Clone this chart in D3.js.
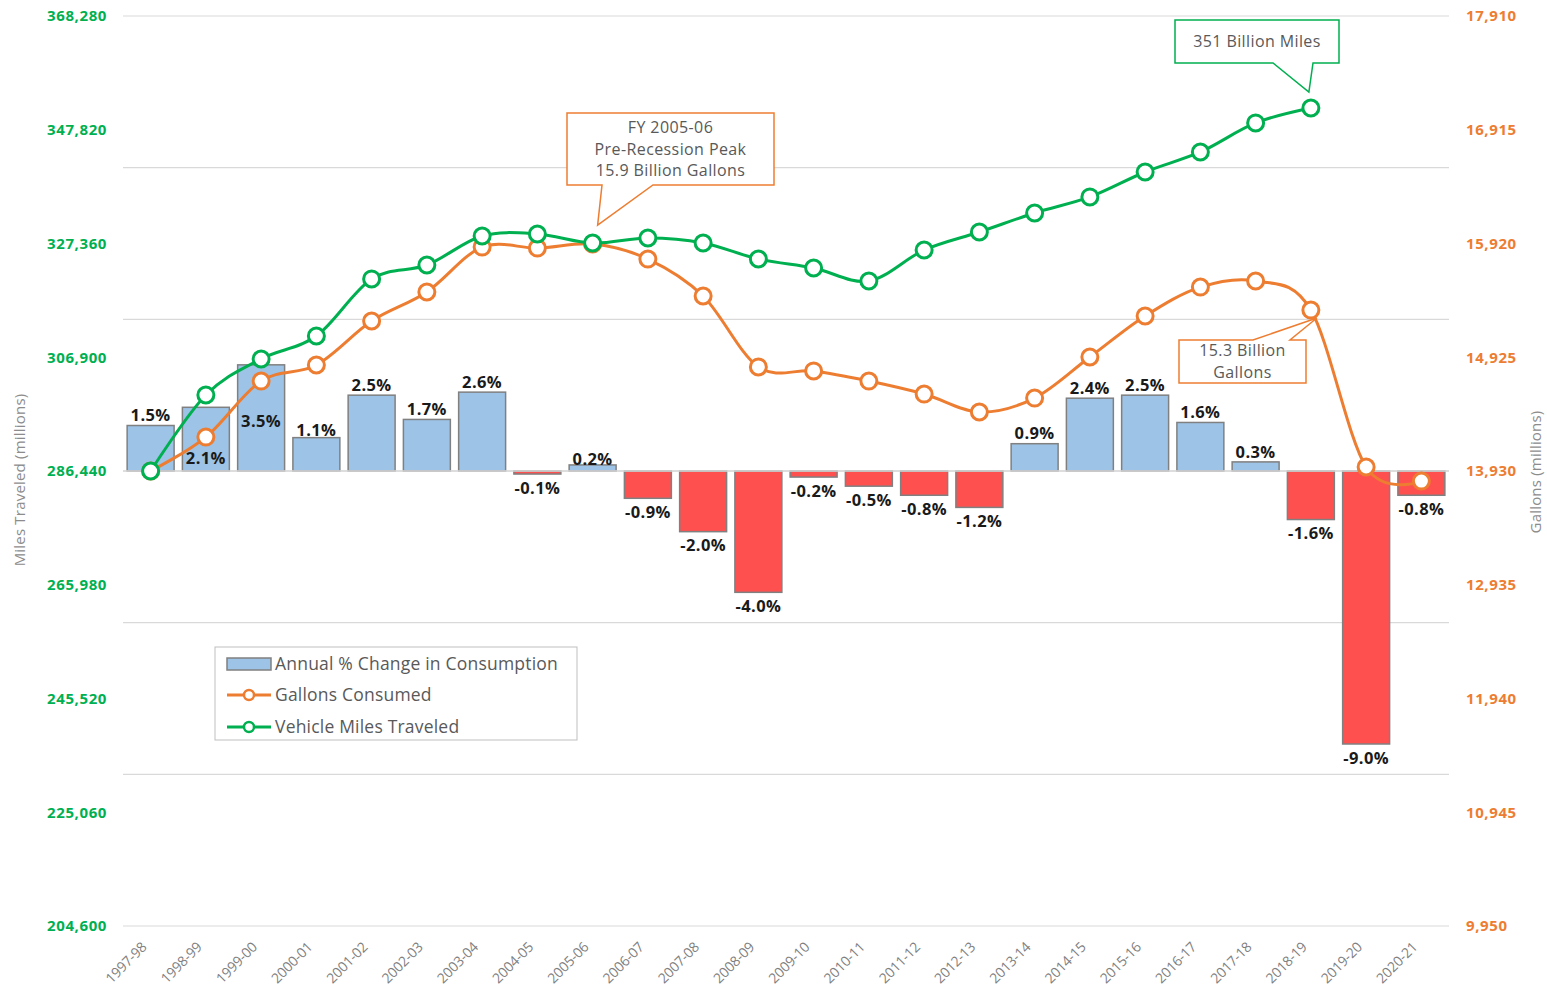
<!DOCTYPE html>
<html>
<head>
<meta charset="utf-8">
<script src="https://cdn.jsdelivr.net/npm/d3@7"></script>
<style>
  body { margin: 0; background: #fff; }
  svg text { font-family: "Open Sans", "Noto Sans", sans-serif; }
</style>
</head>
<body>
<div id="chart"></div>
<script>
// Fiscal years
const years = ["1997-98", "1998-99", "1999-00", "2000-01", "2001-02", "2002-03", "2003-04",
  "2004-05", "2005-06", "2006-07", "2007-08", "2008-09", "2009-10", "2010-11", "2011-12",
  "2012-13", "2013-14", "2014-15", "2015-16", "2016-17", "2017-18", "2018-19", "2019-20", "2020-21"];

// Annual % change in fuel consumption
const pctChange = [1.5, 2.1, 3.5, 1.1, 2.5, 1.7, 2.6, -0.1, 0.2, -0.9, -2.0, -4.0, -0.2, -0.5,
  -0.8, -1.2, 0.9, 2.4, 2.5, 1.6, 0.3, -1.6, -9.0, -0.8];

// Gallons consumed (millions)
const gallons = [13930, 14227, 14717, 14857, 15242, 15496, 15889, 15880, 15915, 15784, 15461,
  14840, 14805, 14717, 14603, 14446, 14568, 14927, 15286, 15539, 15592, 15338, 13965, 13842];

// Vehicle miles traveled (millions), ends at 2018-19
const miles = [286440, 300110, 306590, 310720, 320980, 323490, 328710, 329070, 327450, 328350,
  327450, 324570, 322950, 320620, 326190, 329430, 332850, 335730, 340220, 343820, 349040, 351730];

const milesTicks = d3.range(9).map(i => 204600 + i * 20460);
const gallonTicks = d3.range(9).map(i => 9950 + i * 995);
const pctGrid = [-15, -10, -5, 0, 5, 10, 15];

const width = 1547, height = 993;
const plotL = 123, plotR = 1449, plotT = 16, plotB = 926;

const green = "#00b050", orange = "#ed7d31", grey = "#595959";

const svg = d3.select("#chart").append("svg")
  .attr("width", width)
  .attr("height", height);

const x = d3.scaleBand()
  .domain(years)
  .range([plotL, plotR])
  .paddingInner(0.15)
  .paddingOuter(0.075);

const yPct = d3.scaleLinear().domain([-15, 15]).range([plotB, plotT]);
const yMiles = d3.scaleLinear().domain([204600, 368280]).range([plotB, plotT]);
const yGal = d3.scaleLinear().domain([9950, 17910]).range([plotB, plotT]);

const cx = d => x(d) + x.bandwidth() / 2;

// gridlines (from the hidden % axis)
svg.append("g")
  .selectAll("line")
  .data(pctGrid)
  .join("line")
  .attr("x1", plotL).attr("x2", plotR)
  .attr("y1", d => yPct(d)).attr("y2", d => yPct(d))
  .attr("stroke", "#d9d9d9")
  .attr("stroke-width", 1.2);

// left axis labels
svg.append("g")
  .selectAll("text")
  .data(milesTicks)
  .join("text")
  .attr("x", 107)
  .attr("y", d => yMiles(d))
  .attr("dy", "0.35em")
  .attr("text-anchor", "end")
  .attr("fill", green)
  .attr("font-weight", "bold")
  .attr("font-size", 15)
  .attr("letter-spacing", "0.6")
  .text(d3.format(","));

// right axis labels
svg.append("g")
  .selectAll("text")
  .data(gallonTicks)
  .join("text")
  .attr("x", 1466)
  .attr("y", d => yGal(d))
  .attr("dy", "0.35em")
  .attr("fill", orange)
  .attr("font-weight", "bold")
  .attr("font-size", 15)
  .attr("letter-spacing", "0.6")
  .text(d3.format(","));

// axis titles
svg.append("text")
  .attr("transform", "translate(25,480) rotate(-90)")
  .attr("text-anchor", "middle")
  .attr("fill", "#8c8c8c")
  .attr("font-size", 15)
  .attr("letter-spacing", "0.2")
  .text("Miles Traveled (millions)");

svg.append("text")
  .attr("transform", "translate(1541,472) rotate(-90)")
  .attr("text-anchor", "middle")
  .attr("fill", "#8c8c8c")
  .attr("font-size", 15)
  .attr("letter-spacing", "0.2")
  .text("Gallons (millions)");

// x labels
svg.append("g")
  .selectAll("text")
  .data(years)
  .join("text")
  .attr("transform", d => `translate(${cx(d) - 3},${plotB + 22}) rotate(-45)`)
  .attr("text-anchor", "end")
  .attr("fill", "#7f7f7f")
  .attr("font-size", 14)
  .attr("letter-spacing", "-0.2")
  .text(d => d);

// bars
const barData = years.map((y, i) => ({ year: y, v: pctChange[i] }));

svg.append("g")
  .selectAll("rect")
  .data(barData)
  .join("rect")
  .attr("x", d => x(d.year))
  .attr("width", x.bandwidth())
  .attr("y", d => yPct(Math.max(0, d.v)))
  .attr("height", d => Math.abs(yPct(d.v) - yPct(0)))
  .attr("fill", d => d.v >= 0 ? "#9dc3e6" : "#ff5050")
  .attr("stroke", "#808080")
  .attr("stroke-width", 1.5);

// zero line
svg.append("line")
  .attr("x1", plotL).attr("x2", plotR)
  .attr("y1", yPct(0)).attr("y2", yPct(0))
  .attr("stroke", "#d9d9d9")
  .attr("stroke-width", 1.5);

// lines
const curve = d3.curveCardinal.tension(0);

const galPts = years.map((y, i) => [cx(y), yGal(gallons[i])]);
const milePts = miles.map((m, i) => [cx(years[i]), yMiles(m)]);

function drawSeries(pts, color) {
  svg.append("path")
    .attr("d", d3.line().curve(curve)(pts))
    .attr("fill", "none")
    .attr("stroke", color)
    .attr("stroke-width", 3);
  svg.append("g")
    .selectAll("circle")
    .data(pts)
    .join("circle")
    .attr("cx", d => d[0])
    .attr("cy", d => d[1])
    .attr("r", 8)
    .attr("fill", "#fff")
    .attr("stroke", color)
    .attr("stroke-width", 3);
}
drawSeries(galPts, orange);
drawSeries(milePts, green);

// bar labels; a few were nudged by hand in the original
const labelNudge = { "1998-99": 61, "1999-00": 66, "2000-01": 3, "2005-06": 4 };

svg.append("g")
  .selectAll("text")
  .data(barData)
  .join("text")
  .attr("x", d => cx(d.year))
  .attr("y", d => d.v >= 0
    ? yPct(d.v) - 10 + (labelNudge[d.year] || 0)
    : yPct(d.v) + 14)
  .attr("dy", "0.35em")
  .attr("text-anchor", "middle")
  .attr("fill", "#1a1a1a")
  .attr("font-weight", "bold")
  .attr("font-size", 16.5)
  .attr("letter-spacing", "0.4")
  .text(d => d.v.toFixed(1) + "%");

// callouts
function callout(box, tip, base, color, lines) {
  const [x0, y0, x1, y1] = box;
  const [b0, b1] = base;
  let pts;
  if (tip[1] > y1) {
    pts = [[x0, y0], [x1, y0], [x1, y1], [b1, y1], tip, [b0, y1], [x0, y1]];
  } else {
    pts = [[x0, y0], [b0, y0], tip, [b1, y0], [x1, y0], [x1, y1], [x0, y1]];
  }
  svg.append("path")
    .attr("d", "M" + pts.join("L") + "Z")
    .attr("fill", "#fff")
    .attr("stroke", color)
    .attr("stroke-width", 1.5);
  const mid = (x0 + x1) / 2;
  const lh = 21.5;
  const start = (y0 + y1) / 2 - (lines.length - 1) * lh / 2;
  svg.append("g")
    .selectAll("text")
    .data(lines)
    .join("text")
    .attr("x", mid)
    .attr("y", (d, i) => start + i * lh)
    .attr("dy", "0.35em")
    .attr("text-anchor", "middle")
    .attr("fill", grey)
    .attr("font-size", 16)
    .attr("letter-spacing", "0.4")
    .text(d => d);
}

const p0506 = [cx("2005-06"), yGal(gallons[8])];
callout([567, 113, 774, 185], [p0506[0] + 5, p0506[1] - 19], [602, 653], orange,
  ["FY 2005-06", "Pre-Recession Peak", "15.9 Billion Gallons"]);

const pMiles = [cx("2018-19"), yMiles(miles[21])];
callout([1175, 20, 1339, 63], [pMiles[0] - 2, pMiles[1] - 16], [1273, 1313], green,
  ["351 Billion Miles"]);

const pGal = [cx("2018-19"), yGal(gallons[21])];
callout([1179, 340, 1306, 383], [pGal[0] + 6, pGal[1] + 8], [1253, 1290], orange,
  ["15.3 Billion", "Gallons"]);

// legend
const lg = svg.append("g").attr("transform", "translate(215,647)");
lg.append("rect")
  .attr("width", 362).attr("height", 93)
  .attr("fill", "#fff")
  .attr("stroke", "#bfbfbf");

lg.append("rect")
  .attr("x", 12).attr("y", 11).attr("width", 44).attr("height", 12)
  .attr("fill", "#9dc3e6").attr("stroke", "#808080").attr("stroke-width", 1.5);

const legendLines = [
  { label: "Gallons Consumed", color: orange, y: 48 },
  { label: "Vehicle Miles Traveled", color: green, y: 80 }
];
legendLines.forEach(d => {
  lg.append("line")
    .attr("x1", 12).attr("x2", 56).attr("y1", d.y).attr("y2", d.y)
    .attr("stroke", d.color).attr("stroke-width", 3);
  lg.append("circle")
    .attr("cx", 34).attr("cy", d.y).attr("r", 5)
    .attr("fill", "#fff").attr("stroke", d.color).attr("stroke-width", 2.5);
});

lg.selectAll("text.lab")
  .data([{ label: "Annual % Change in Consumption", y: 17 }].concat(legendLines))
  .join("text")
  .attr("class", "lab")
  .attr("x", 60)
  .attr("y", d => d.y)
  .attr("dy", "0.35em")
  .attr("fill", grey)
  .attr("font-size", 17.5)
  .attr("letter-spacing", "0.2")
  .text(d => d.label);
</script>
</body>
</html>
